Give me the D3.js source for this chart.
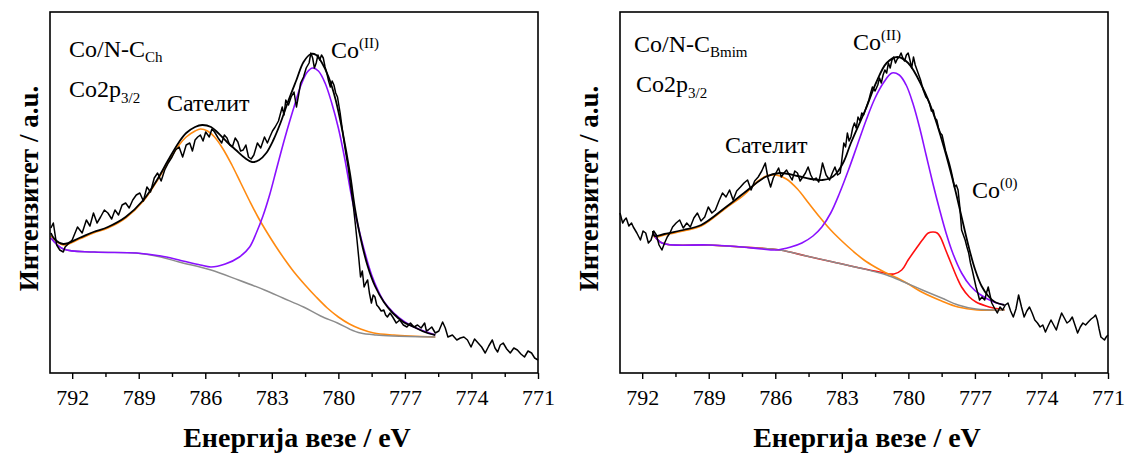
<!DOCTYPE html>
<html><head><meta charset="utf-8">
<script src="https://cdn.jsdelivr.net/npm/d3@7"></script>
<style>
body{margin:0;background:#fff}
svg{display:block}
svg text{font-family:"Liberation Serif","Times New Roman",Times,serif;}
</style>
</head><body>
<svg id="c" width="1125" height="455"></svg>
<script>
// ---------- data ----------
const tickValues = [792, 789, 786, 783, 780, 777, 774, 771];
const minorTickValues = [790.5, 787.5, 784.5, 781.5, 778.5, 775.5, 772.5];
const energyDomain = [793, 771];
const intensityDomain = [0, 361];

// Left panel: Co/N-C_Ch  [binding energy eV, intensity a.u.]
const leftRaw = [[792.96,145],[792.85,150],[792.70,128],[792.56,123],[792.40,121],[792.32,126],[792.00,133],[791.76,146],[791.55,140],[791.36,153],[791.20,147],[791.04,160],[790.88,150],[790.72,156],[790.55,163],[790.39,160],[790.22,154],[790.07,163],[789.91,158],[789.75,168],[789.59,170],[789.43,165],[789.27,173],[789.11,178],[788.95,180],[788.79,172],[788.63,186],[788.47,181],[788.30,195],[788.15,200],[787.99,192],[787.83,203],[787.67,210],[787.50,216],[787.34,223],[787.18,226],[787.02,216],[786.86,228],[786.70,230],[786.58,222],[786.46,233],[786.34,236],[786.22,238],[786.10,232],[785.98,241],[785.82,236],[785.70,244],[785.58,241],[785.42,235],[785.26,230],[785.14,238],[785.02,235],[784.90,228],[784.78,226],[784.65,235],[784.53,231],[784.41,222],[784.29,223],[784.17,228],[784.05,216],[783.93,214],[783.81,218],[783.65,230],[783.50,225],[783.33,236],[783.20,230],[783.09,236],[782.97,242],[782.85,246],[782.70,252],[782.53,266],[782.45,258],[782.37,273],[782.25,268],[782.13,276],[782.00,281],[781.89,266],[781.81,276],[781.70,290],[781.57,296],[781.45,305],[781.32,310],[781.24,320],[781.16,315],[781.08,305],[781.00,310],[780.92,318],[780.84,313],[780.76,318],[780.68,315],[780.60,306],[780.52,300],[780.44,292],[780.36,286],[780.28,292],[780.20,288],[780.12,280],[780.04,276],[779.92,260],[779.80,240],[779.68,222],[779.56,206],[779.44,186],[779.32,166],[779.24,150],[779.16,133],[779.08,115],[779.00,96],[778.92,102],[778.84,86],[778.76,90],[778.68,93],[778.60,80],[778.51,70],[778.43,78],[778.35,76],[778.27,68],[778.19,66],[778.07,62],[777.95,63],[777.87,58],[777.79,56],[777.67,60],[777.55,56],[777.39,50],[777.23,53],[777.07,48],[776.91,46],[776.75,50],[776.59,46],[776.43,48],[776.27,45],[776.11,50],[776.03,42],[775.95,43],[775.79,46],[775.63,40],[775.47,42],[775.30,51],[775.18,45],[775.06,36],[774.86,38],[774.66,33],[774.50,35],[774.34,36],[774.18,33],[774.02,26],[773.86,34],[773.70,30],[773.54,26],[773.38,20],[773.22,27],[773.06,33],[772.94,25],[772.82,21],[772.70,28],[772.57,30],[772.41,24],[772.25,20],[772.09,25],[771.93,23],[771.77,19],[771.61,16],[771.45,22],[771.29,20],[771.15,15],[771.00,13]];
const leftEnvelope = [[792.96,140],[792.80,134],[792.40,129],[791.68,135],[791.04,141],[790.39,146],[789.59,156],[788.79,173],[788.15,194],[787.67,213],[787.18,231],[786.86,240],[786.46,246],[786.14,248],[785.74,246],[785.42,240],[785.02,231],[784.62,223],[784.21,215],[783.89,211],[783.57,213],[783.25,220],[782.93,233],[782.61,250],[782.29,270],[781.89,293],[781.57,311],[781.24,319],[781.00,318],[780.76,311],[780.44,296],[780.12,273],[779.80,240],[779.48,200],[779.24,163],[779.00,135],[778.68,107],[778.35,87],[777.95,71],[777.55,60],[777.07,51],[776.59,46],[776.11,41],[775.63,38]];
const leftBackground = [[792.96,135],[792.40,124],[791.00,121],[789.11,120],[788.00,116],[787.18,111],[785.74,103],[784.50,93],[783.33,83],[782.50,75],[781.57,66],[780.80,57],[780.04,50],[779.50,44],[779.00,40],[778.30,38],[777.55,37],[775.63,36]];
const leftSatellite = [[792.96,137],[792.40,128],[791.68,134],[791.04,140],[790.39,145],[789.59,155],[788.79,172],[788.15,193],[787.67,211],[787.18,228],[786.86,236],[786.46,242],[786.22,244],[785.90,242],[785.58,236],[785.20,224],[784.80,208],[784.40,190],[784.00,172],[783.60,155],[783.20,140],[782.80,126],[782.40,113],[782.00,101],[781.50,88],[781.00,76],[780.50,65],[780.00,56],[779.50,49],[779.00,44],[778.40,40],[777.50,38],[775.63,36]];
const leftCo2 = [[792.96,135],[792.40,124],[791.00,121],[789.11,120],[788.00,117],[787.18,113],[786.22,108],[785.74,106],[785.10,109],[784.46,116],[784.00,126],[783.70,140],[783.40,157],[783.10,178],[782.80,203],[782.40,236],[782.00,266],[781.70,287],[781.40,301],[781.16,305],[780.90,302],[780.60,290],[780.30,270],[780.00,245],[779.70,213],[779.40,176],[779.10,146],[778.80,120],[778.50,98],[778.20,82],[777.90,70],[777.50,60],[777.00,51],[776.50,45],[775.63,38]];

// Right panel: Co/N-C_Bmim
const rightRaw = [[793.00,160],[792.88,150],[792.80,153],[792.72,155],[792.60,147],[792.48,150],[792.40,146],[792.24,140],[792.08,133],[791.96,142],[791.84,140],[791.72,130],[791.60,133],[791.48,142],[791.36,138],[791.24,128],[791.11,123],[790.99,130],[790.87,136],[790.75,140],[790.63,146],[790.47,150],[790.31,153],[790.15,145],[789.99,150],[789.83,146],[789.67,155],[789.51,160],[789.35,152],[789.18,156],[789.02,166],[788.86,160],[788.70,163],[788.54,172],[788.38,180],[788.22,176],[788.06,183],[787.90,173],[787.74,182],[787.57,186],[787.41,190],[787.25,193],[787.09,183],[786.93,192],[786.77,196],[786.61,202],[786.45,210],[786.33,195],[786.21,186],[786.09,195],[785.97,200],[785.85,205],[785.73,196],[785.61,200],[785.49,203],[785.37,198],[785.24,193],[785.12,202],[785.00,200],[784.88,192],[784.76,196],[784.64,200],[784.52,206],[784.40,198],[784.28,193],[784.16,195],[784.04,191],[783.95,200],[783.87,210],[783.71,198],[783.55,193],[783.43,200],[783.31,206],[783.19,198],[783.07,200],[782.99,215],[782.91,230],[782.83,226],[782.75,240],[782.67,232],[782.59,236],[782.51,245],[782.43,250],[782.35,245],[782.27,256],[782.18,252],[782.10,260],[782.02,258],[781.94,263],[781.86,268],[781.78,273],[781.70,280],[781.62,286],[781.50,282],[781.38,288],[781.30,295],[781.22,290],[781.14,298],[781.06,303],[780.98,300],[780.90,310],[780.82,305],[780.74,313],[780.66,316],[780.58,310],[780.50,314],[780.41,316],[780.33,320],[780.25,315],[780.17,312],[780.09,318],[780.01,320],[779.93,313],[779.85,305],[779.77,316],[779.69,308],[779.61,303],[779.53,298],[779.45,293],[779.33,283],[779.21,276],[779.13,274],[779.05,270],[778.96,262],[778.88,263],[778.80,255],[778.72,253],[778.64,245],[778.56,240],[778.48,238],[778.40,230],[778.32,222],[778.24,216],[778.16,210],[778.08,203],[778.00,195],[777.92,186],[777.84,188],[777.76,183],[777.68,166],[777.60,143],[777.52,138],[777.44,133],[777.36,126],[777.28,120],[777.20,110],[777.12,103],[777.04,95],[776.95,86],[776.87,80],[776.79,73],[776.68,76],[776.56,73],[776.48,80],[776.40,86],[776.32,78],[776.24,70],[776.12,65],[775.99,60],[775.87,66],[775.75,63],[775.63,68],[775.51,70],[775.39,62],[775.27,56],[775.15,64],[775.03,78],[774.90,66],[774.78,56],[774.66,62],[774.54,66],[774.42,60],[774.30,53],[774.18,50],[774.06,46],[773.94,48],[773.82,41],[773.70,47],[773.57,53],[773.45,48],[773.33,43],[773.21,52],[773.09,60],[772.97,55],[772.85,50],[772.73,52],[772.61,56],[772.49,48],[772.37,40],[772.25,46],[772.13,50],[772.01,48],[771.89,51],[771.76,54],[771.64,56],[771.56,58],[771.48,53],[771.40,44],[771.32,36],[771.16,33],[771.08,36],[771.00,38]];
const rightEnvelope = [[791.52,142],[791.44,137],[791.00,139],[790.15,143],[789.34,148],[788.22,166],[787.41,180],[786.45,196],[785.80,200],[785.00,197],[784.40,194],[783.87,193],[783.50,195],[783.23,200],[782.90,212],[782.59,230],[781.94,263],[781.46,290],[780.98,310],[780.49,316],[780.01,310],[779.37,286],[778.88,260],[778.40,226],[777.92,186],[777.60,156],[777.30,128],[777.00,104],[776.70,87],[776.40,77],[776.10,71],[775.67,68]];
const rightBackground = [[791.52,140],[791.11,130],[789.02,128],[787.50,126],[785.80,123],[784.60,117],[783.39,111],[782.20,105],[780.98,98],[780.20,91],[779.37,83],[778.50,75],[777.76,68],[776.95,64],[775.67,63]];
const rightSatellite = [[791.52,141],[791.44,136],[791.00,138],[790.15,142],[789.34,147],[788.22,165],[787.41,178],[786.77,192],[786.40,197],[785.97,198],[785.50,194],[785.00,184],[784.50,170],[784.00,156],[783.50,143],[783.00,132],[782.50,122],[782.00,113],[781.50,106],[781.00,100],[780.50,95],[780.00,89],[779.40,81],[778.50,72],[777.76,66],[776.90,63],[775.67,63]];
const rightCo2 = [[791.52,140],[791.11,130],[789.02,128],[787.50,126],[786.60,124],[785.97,123],[785.30,126],[784.80,130],[784.30,137],[783.90,146],[783.50,160],[783.10,180],[782.70,203],[782.30,228],[781.90,253],[781.50,275],[781.10,291],[780.74,300],[780.41,298],[780.10,288],[779.80,270],[779.50,246],[779.20,218],[778.90,190],[778.60,164],[778.30,140],[778.00,120],[777.60,100],[777.20,87],[776.80,79],[776.15,71],[775.67,68]];
const rightCo0 = [[791.52,140],[791.11,130],[789.02,128],[787.50,126],[785.80,123],[784.60,117],[783.39,111],[782.20,105],[781.30,101],[780.65,99],[780.30,103],[780.01,113],[779.60,126],[779.37,133],[779.10,140],[778.88,141],[778.70,140],[778.56,136],[778.30,122],[778.08,110],[777.80,95],[777.60,86],[777.25,76],[776.95,71],[776.50,67],[776.15,65],[775.67,63]];

// ---------- layout / style ----------
const SERIF = '"Liberation Serif","Times New Roman",Times,serif';
const COLORS = {raw:"#000", env:"#000", bg:"#8c8c8c", sat:"#ff8a10", co2:"#8a10ff", co0:"#ff1010"};
const TOP = 12, BOTTOM = 373;

const panels = [
  {x0:50, x1:538, ylabX:38, raw:leftRaw, env:leftEnvelope, bg:leftBackground,
   under:[leftSatellite], over:[leftCo2],
   sample:"Ch", sampleX:69, sampleY:57, coreX:69, coreY:97, satX:167, satY:111,
   peaks:[{sup:"(II)", x:331, y:58}]},
  {x0:620, x1:1108, ylabX:598, raw:rightRaw, env:rightEnvelope, bg:rightBackground,
   under:[rightCo0, rightSatellite], over:[rightCo2],
   sample:"Bmim", sampleX:634, sampleY:52, coreX:636, coreY:92, satX:725, satY:153,
   peaks:[{sup:"(II)", x:853, y:50},{sup:"(0)", x:972, y:198}]}
];
const compColor = new Map([[leftSatellite,COLORS.sat],[leftCo2,COLORS.co2],[rightSatellite,COLORS.sat],[rightCo2,COLORS.co2],[rightCo0,COLORS.co0]]);

const svg = d3.select("#c");

panels.forEach(p => {
  const x = d3.scaleLinear().domain(energyDomain).range([p.x0, p.x1]);
  const y = d3.scaleLinear().domain(intensityDomain).range([BOTTOM, TOP]);
  const g = svg.append("g");

  const smooth = d3.line().x(d => x(d[0])).y(d => y(d[1])).curve(d3.curveCatmullRom.alpha(0.5));
  const jag = d3.line().x(d => x(d[0])).y(d => y(d[1]));
  const drawComp = d => g.append("path").attr("d", smooth(d)).attr("fill","none")
      .attr("stroke", compColor.get(d)).attr("stroke-width", 1.6);

  p.under.forEach(drawComp);
  g.append("path").attr("d", smooth(p.bg)).attr("fill","none")
    .attr("stroke", COLORS.bg).attr("stroke-width", 1.4);
  p.over.forEach(drawComp);
  g.append("path").attr("d", smooth(p.env)).attr("fill","none")
    .attr("stroke", COLORS.env).attr("stroke-width", 1.8);
  g.append("path").attr("d", jag(p.raw)).attr("fill","none")
    .attr("stroke", COLORS.raw).attr("stroke-width", 1.5).attr("stroke-linejoin","round");

  // frame
  g.append("rect").attr("x", p.x0).attr("y", TOP)
    .attr("width", p.x1 - p.x0).attr("height", BOTTOM - TOP)
    .attr("fill","none").attr("stroke","#000").attr("stroke-width",1.6);

  // axis
  const ax = g.append("g").attr("transform", `translate(0,${BOTTOM})`)
    .call(d3.axisBottom(x).tickValues(tickValues).tickSize(6).tickFormat(d3.format("d")));
  ax.attr("font-family", null);
  ax.select(".domain").remove();
  ax.selectAll(".tick line").attr("stroke","#000").attr("stroke-width",1.4);
  ax.selectAll(".tick text").attr("y", 32).attr("dy", 0)
    .style("font-family", SERIF).attr("font-size", 22).attr("fill","#000");
  const axm = g.append("g").attr("transform", `translate(0,${BOTTOM})`)
    .call(d3.axisBottom(x).tickValues(minorTickValues).tickSize(4).tickFormat(""));
  axm.select(".domain").remove();
  axm.selectAll(".tick line").attr("stroke","#000").attr("stroke-width",1.4);

  // axis titles
  g.append("text").attr("x", (p.x0 + p.x1) / 2 + 3).attr("y", 447)
    .attr("text-anchor","middle").style("font-family", SERIF).attr("font-weight","bold")
    .attr("font-size", 28).text("Енергија везе / eV");
  g.append("text").attr("transform", `translate(${p.ylabX},${(TOP + BOTTOM) / 2 - 4}) rotate(-90)`)
    .attr("text-anchor","middle").style("font-family", SERIF).attr("font-weight","bold")
    .attr("font-size", 27).text("Интензитет / a.u.");

  // annotations
  const t1 = g.append("text").attr("x", p.sampleX).attr("y", p.sampleY)
    .style("font-family", SERIF).attr("font-size", 24);
  t1.append("tspan").text("Co/N-C");
  t1.append("tspan").attr("font-size", 15).attr("dy", 5).text(p.sample);

  const t2 = g.append("text").attr("x", p.coreX).attr("y", p.coreY)
    .style("font-family", SERIF).attr("font-size", 24);
  t2.append("tspan").text("Co2p");
  t2.append("tspan").attr("font-size", 15).attr("dy", 6).text("3/2");

  g.append("text").attr("x", p.satX).attr("y", p.satY)
    .style("font-family", SERIF).attr("font-size", 24).text("Сателит");

  p.peaks.forEach(pk => {
    const t = g.append("text").attr("x", pk.x).attr("y", pk.y)
      .style("font-family", SERIF).attr("font-size", 24);
    t.append("tspan").text("Co");
    t.append("tspan").attr("font-size", 15).attr("dy", -10).text(pk.sup);
  });
});
</script>
</body></html>
